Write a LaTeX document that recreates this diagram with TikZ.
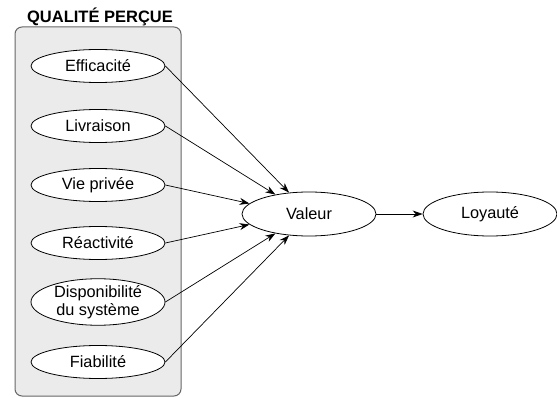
\documentclass[tikz,border=0pt]{standalone}
\usepackage{fontspec}
\setmainfont{Liberation Sans}
\usetikzlibrary{shapes.geometric,arrows.meta}
\begin{document}
\begin{tikzpicture}[x=1pt,y=-1pt,
  oval/.style={ellipse,draw=black,fill=white,line width=0.8pt,minimum width=134pt,minimum height=33pt,inner sep=0pt,font=\fontsize{16.3}{17.5}\selectfont,align=center},
  bigoval/.style={oval,minimum height=44pt},
  arr/.style={line width=0.7pt,-{Stealth[length=10pt,width=7pt]}}]
\useasboundingbox (0,0) rectangle (557,398);
\node[draw=black!60,fill=black!8,line width=1pt,rounded corners=7pt,minimum width=166pt,minimum height=369pt,inner sep=0pt] (grp) at (98,211.5) {};
\node[font=\bfseries\fontsize{16.5}{18}\selectfont] (title) at (100,17) {QUALITÉ PERÇUE};
\node[oval] (e1) at (98,66) {Efficacité};
\node[oval] (e2) at (98,126) {Livraison};
\node[oval] (e3) at (98,185) {Vie privée};
\node[oval] (e4) at (98,243) {Réactivité};
\node[oval] (e5) at (98,302) {Disponibilité\\du système};
\node[oval] (e6) at (98,362) {Fiabilité};
\node[bigoval] (v) at (309,214) {Valeur};
\node[oval,minimum height=44pt] (l) at (490,214) {Loyauté};
\draw[arr] (e1.east) -- (v.133);
\draw[arr] (e2.east) -- (v.150);
\draw[arr] (e3.east) -- (v.170);
\draw[arr] (e4.east) -- (v.190);
\draw[arr] (e5.east) -- (v.210);
\draw[arr] (e6.east) -- (v.227);
\draw[arr] (v.east) -- (l.west);
\end{tikzpicture}
\end{document}
